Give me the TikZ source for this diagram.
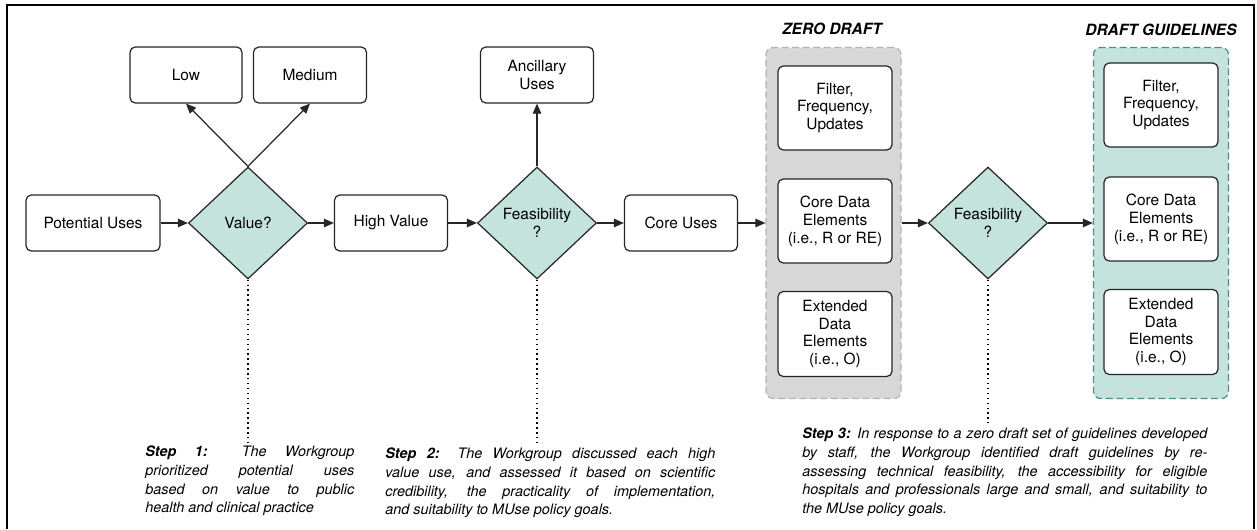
\documentclass[tikz,border=0pt]{standalone}
\usepackage{fontspec}
\setmainfont{TeX Gyre Heros}
\usetikzlibrary{shapes.geometric,arrows.meta}
\definecolor{tealfill}{HTML}{C3E3DC}
\definecolor{tealline}{HTML}{4E8C84}
\definecolor{greyfill}{HTML}{D7D7D7}
\definecolor{greyline}{HTML}{B3B3B3}
\tikzset{
  box/.style={draw=black!85, fill=white, rounded corners=3pt, line width=0.7pt,
    align=center, inner sep=1pt, font=\fontsize{8.8}{10.2}\selectfont},
  decision/.style={diamond, draw=black!85, fill=tealfill, line width=0.7pt,
    align=center, inner sep=0pt, minimum width=2.38cm, minimum height=2.24cm,
    font=\fontsize{8.8}{10.2}\selectfont},
  container/.style={dash pattern=on 4pt off 2pt, rounded corners=4pt, line width=0.7pt,
    minimum width=2.7cm, minimum height=7.02cm},
  grouplabel/.style={font=\fontsize{8.8}{10.2}\selectfont\bfseries\itshape},
  steptext/.style={anchor=north west, align=justify, inner sep=0pt,
    font=\fontsize{8.2}{10.7}\selectfont\itshape},
  flow/.style={->, >={Triangle[length=2mm,width=1.7mm]}, line width=0.7pt, draw=black!85},
  guide/.style={dotted, line width=0.8pt}
}
\begin{document}
\begin{tikzpicture}
        \useasboundingbox (0,0) rectangle (25.14,10.58);
        \draw[line width=1.2pt] (0.14,0) -- (0.14,10.48) -- (25.08,10.48) -- (25.08,0);

        %%%%%%%%%% Contenitori %%%%%%%%%%
        \node[container, draw=greyline, fill=greyfill] (zerobox) at (16.67,6.12) {};
        \node[container, draw=tealline, fill=tealfill] (draftbox) at (23.22,6.12) {};
        \node[grouplabel] (zerolbl) at (16.64,10.00) {ZERO DRAFT};
        \node[grouplabel] (draftlbl) at (23.22,9.98) {DRAFT GUIDELINES};

        %%%%%%%%%% Nodi %%%%%%%%%%
        \node[box, minimum width=2.68cm, minimum height=1.12cm] (potential) at (1.86,6.12) {Potential Uses};
        \node[decision] (value) at (4.96,6.12) {Value?};
        \node[box, minimum width=2.24cm, minimum height=1.12cm] (low) at (3.72,9.08) {Low};
        \node[box, minimum width=2.26cm, minimum height=1.12cm] (medium) at (6.20,9.08) {Medium};
        \node[box, minimum width=2.26cm, minimum height=1.12cm] (high) at (7.82,6.12) {High Value};
        \node[decision] (feas) at (10.74,6.12) {Feasibility\\?};
        \node[box, minimum width=2.26cm, minimum height=1.12cm] (ancillary) at (10.74,9.08) {Ancillary\\Uses};
        \node[box, minimum width=2.26cm, minimum height=1.12cm] (core) at (13.62,6.12) {Core Uses};

        \node[box, minimum width=2.28cm, minimum height=1.68cm] (zfilter) at (16.70,8.42) {Filter,\\Frequency,\\Updates};
        \node[box, minimum width=2.28cm, minimum height=1.68cm] (zcore) at (16.70,6.16) {Core Data\\Elements\\(i.e., R or RE)};
        \node[box, minimum width=2.28cm, minimum height=1.70cm] (zext) at (16.70,3.90) {Extended\\Data\\Elements\\(i.e., O)};

        \node[decision] (feastwo) at (19.76,6.12) {Feasibility\\?};

        \node[box, minimum width=2.28cm, minimum height=1.68cm] (dfilter) at (23.22,8.48) {Filter,\\Frequency,\\Updates};
        \node[box, minimum width=2.28cm, minimum height=1.68cm] (dcore) at (23.22,6.20) {Core Data\\Elements\\(i.e., R or RE)};
        \node[box, minimum width=2.28cm, minimum height=1.70cm] (dext) at (23.22,3.94) {Extended\\Data\\Elements\\(i.e., O)};

        %%%%%%%%%% Testi %%%%%%%%%%
        \node[steptext, text width=4.18cm] (stepone) at (2.90,1.67) {\textbf{Step 1:} The Workgroup\linebreak prioritized potential uses\linebreak based on value to public\linebreak health and clinical practice};
        \node[steptext, text width=6.60cm] (steptwo) at (7.70,1.63) {\textbf{Step 2:} The Workgroup discussed each high\linebreak value use, and assessed it based on scientific\linebreak credibility, the practicality of implementation,\linebreak and suitability to MUse policy goals.};
        \node[steptext, text width=8.10cm] (stepthree) at (16.04,2.03) {\textbf{Step 3:} In response to a zero draft set of guidelines developed\linebreak by staff, the Workgroup identified draft guidelines by re-\linebreak assessing technical feasibility, the accessibility for eligible\linebreak hospitals and professionals large and small, and suitability to\linebreak the MUse policy goals.};

        \coordinate (guideone) at (4.96,1.72);
        \coordinate (guidetwo) at (10.74,1.72);
        \coordinate (guidethree) at (19.76,2.12);

        %%%%%%%%% Frecce %%%%%%%%%
        \draw[flow] (potential) -- (value);
        \draw[flow] (value) -- (high);
        \draw[flow] (value.north) -- (low.south);
        \draw[flow] (value.north) -- (medium.south);
        \draw[flow] (high) -- (feas);
        \draw[flow] (feas) -- (ancillary);
        \draw[flow] (feas) -- (core);
        \draw[flow] (core) -- (zerobox);
        \draw[flow] (zerobox) -- (feastwo);
        \draw[flow] (feastwo) -- (draftbox);

        \draw[guide] (value.south) -- (guideone);
        \draw[guide] (feas.south) -- (guidetwo);
        \draw[guide] (feastwo.south) -- (guidethree);
    \end{tikzpicture}
\end{document}
